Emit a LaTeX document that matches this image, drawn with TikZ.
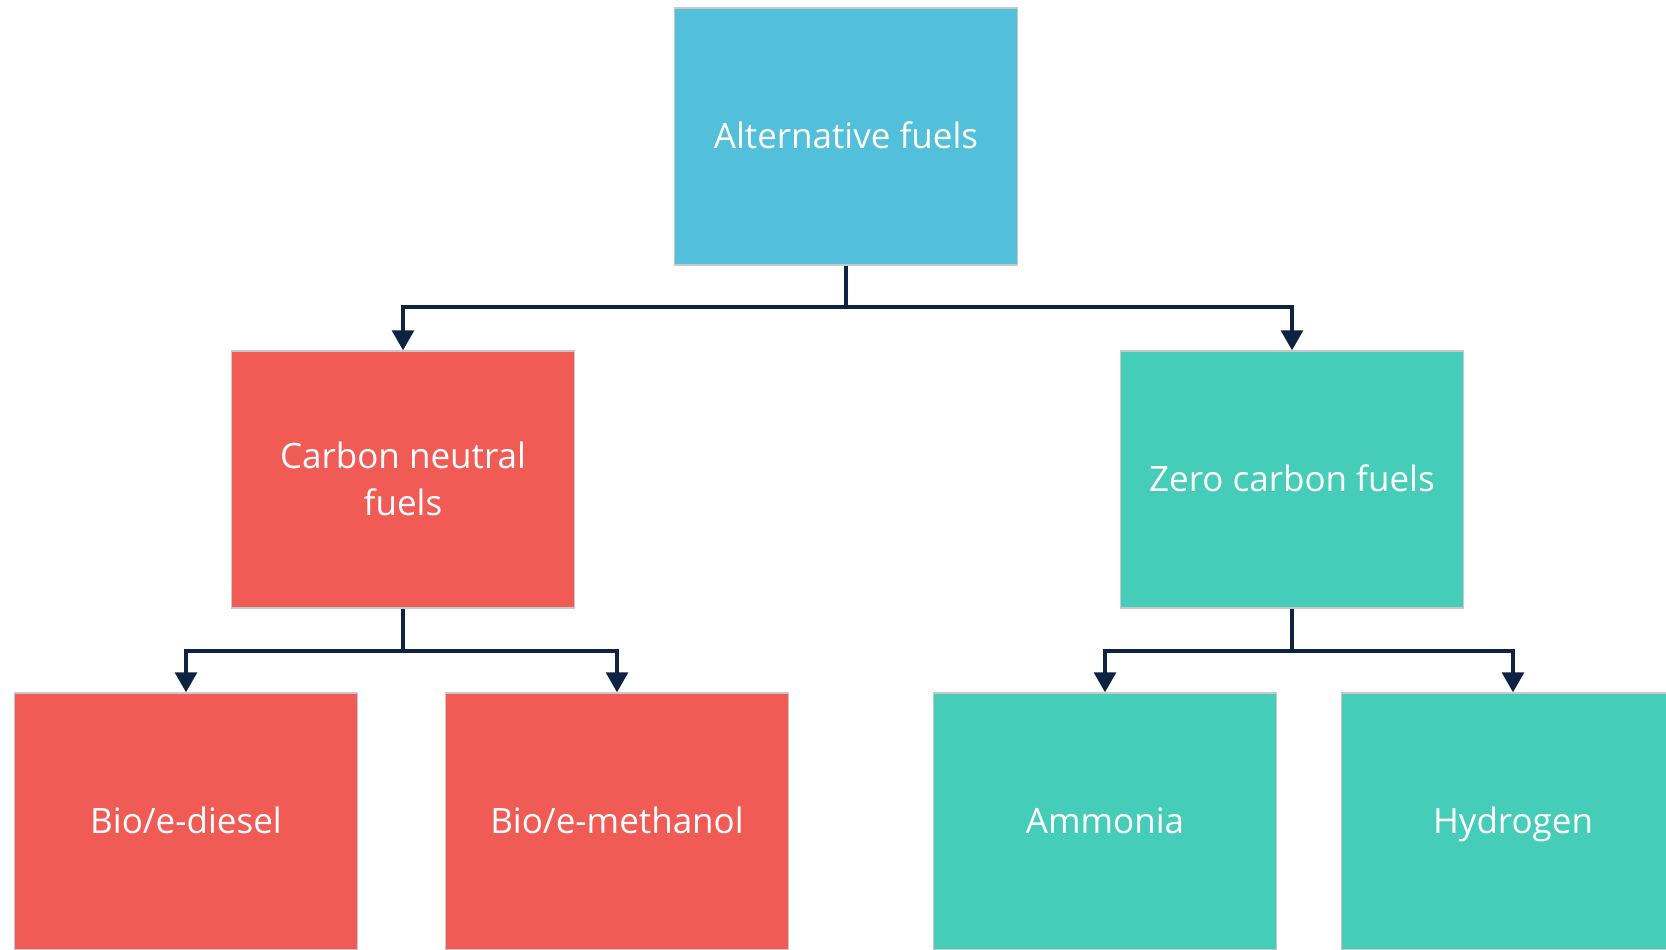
\documentclass[tikz,border=0pt]{standalone}
\usepackage{fontspec}
\setmainfont{Open Sans}
\usetikzlibrary{arrows.meta}
\definecolor{cblue}{HTML}{52C0DB}
\definecolor{cred}{HTML}{F15B55}
\definecolor{cteal}{HTML}{45CDB9}
\definecolor{cline}{HTML}{0E2342}
\definecolor{cedge}{HTML}{C8C8C8}
\newcommand\boxstrut{\rule[-5.5pt]{0pt}{23.4pt}}
\tikzset{
  fuelbox/.style={draw=cedge, line width=0.75pt, minimum width=171.5pt, minimum height=128.5pt,
    inner sep=0pt, text=white, align=center, font=\fontsize{17.5}{23.4}\selectfont},
  conn/.style={draw=cline, line width=1.6pt},
  arr/.style={conn, -{Triangle[length=10pt,width=11pt]}}
}
\begin{document}
\begin{tikzpicture}[x=0.5pt,y=-0.5pt]
\clip (0,0) rectangle (1666,949);
\fill[white] (0,0) rectangle (1666,949);
\node[fuelbox, fill=cblue] (top) at (846,136.5) {\boxstrut Alternative fuels};
\node[fuelbox, fill=cred] (cn) at (403,479.5) {\boxstrut Carbon neutral\\\boxstrut fuels};
\node[fuelbox, fill=cteal] (zc) at (1292,479.5) {\boxstrut Zero carbon fuels};
\node[fuelbox, fill=cred] (bd) at (186,821.5) {\boxstrut Bio/e-diesel};
\node[fuelbox, fill=cred] (bm) at (617,821.5) {\boxstrut Bio/e-methanol};
\node[fuelbox, fill=cteal] (am) at (1105,821.5) {\boxstrut Ammonia};
\node[fuelbox, fill=cteal] (hy) at (1513,821.5) {\boxstrut Hydrogen};
\coordinate (j1) at (846,307);
\coordinate (j2) at (403,651);
\coordinate (j3) at (1292,651);
\draw[conn] (top.south) -- (j1);
\draw[arr] (j1) -| (cn.north);
\draw[arr] (j1) -| (zc.north);
\draw[conn] (cn.south) -- (j2);
\draw[arr] (j2) -| (bd.north);
\draw[arr] (j2) -| (bm.north);
\draw[conn] (zc.south) -- (j3);
\draw[arr] (j3) -| (am.north);
\draw[arr] (j3) -| (hy.north);
\end{tikzpicture}
\end{document}
